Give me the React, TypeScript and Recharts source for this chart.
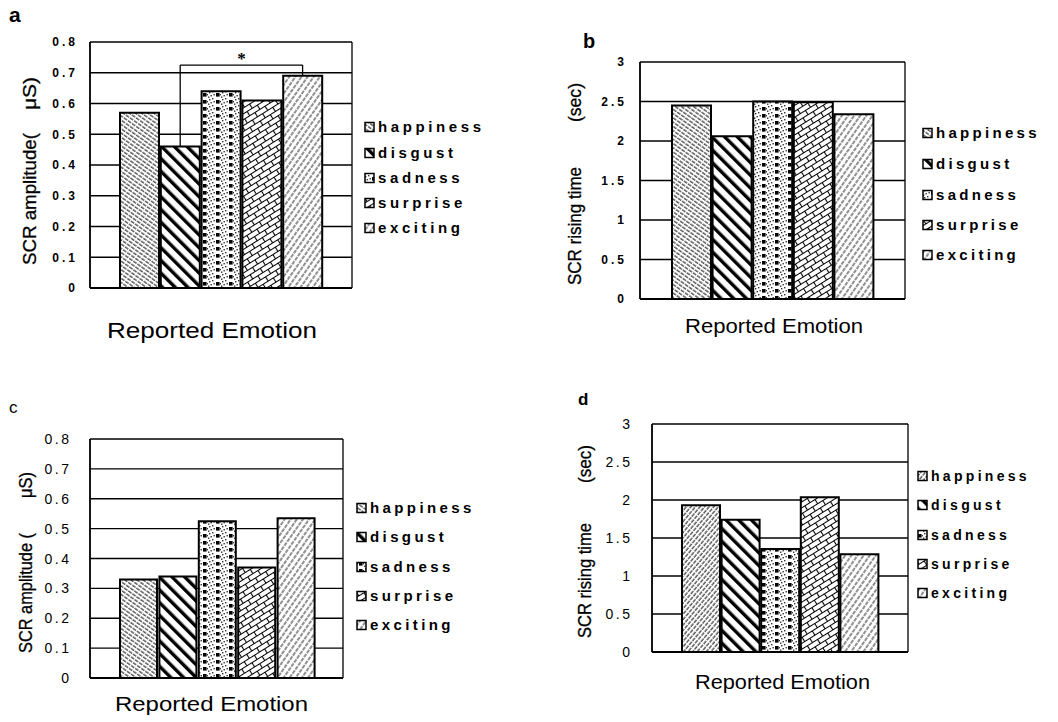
import { BarChart, Bar, XAxis, YAxis, CartesianGrid, Cell, ReferenceLine } from 'recharts';

const W = 1058;
const H = 722;

const EMOTIONS = ['happiness', 'disgust', 'sadness', 'surprise', 'exciting'];
const AMP_A = [0.57, 0.46, 0.64, 0.61, 0.69];
const RISE_B = [2.45, 2.06, 2.5, 2.49, 2.34];
const AMP_C = [0.33, 0.34, 0.525, 0.37, 0.535];
const RISE_D = [1.93, 1.74, 1.355, 2.035, 1.285];
const AMP_TICKS = [0, 0.1, 0.2, 0.3, 0.4, 0.5, 0.6, 0.7, 0.8];
const RISE_TICKS = [0, 0.5, 1, 1.5, 2, 2.5, 3];
const BRACKET_Y = 0.725;

const FILLS = ['pHap', 'pDis', 'pSad', 'pSur', 'pExc'];
const FILLS_D = ['pHapD', 'pDis', 'pSad', 'pSur', 'pExc'];

const SANS = '"Liberation Sans", Arial, sans-serif';
const NARROW = '"Liberation Sans Narrow", "Liberation Sans", Arial, sans-serif';

function Patterns() {
  return (
    <svg width={0} height={0} style={{ position: 'absolute' }}>
      <defs>
        <pattern id="pHap" width="5" height="3.5" patternUnits="userSpaceOnUse" patternTransform="rotate(35)">
          <rect width="5" height="3.5" fill="#fff" />
          <line x1="0" y1="1" x2="5" y2="1" stroke="#222" strokeWidth="1" strokeDasharray="3 1" />
        </pattern>
        <pattern id="pHapD" width="5" height="3.5" patternUnits="userSpaceOnUse" patternTransform="rotate(-50)">
          <rect width="5" height="3.5" fill="#fff" />
          <line x1="0" y1="1" x2="5" y2="1" stroke="#222" strokeWidth="1" strokeDasharray="3 1" />
        </pattern>
        <pattern id="pDis" width="9" height="9" patternUnits="userSpaceOnUse" patternTransform="rotate(-45)">
          <rect width="9" height="9" fill="#fff" />
          <rect width="3.4" height="9" fill="#000" />
        </pattern>
        <pattern id="pSad" width="13" height="7" patternUnits="userSpaceOnUse">
          <rect width="13" height="7" fill="#fff" />
          <rect x="1" y="1" width="1.4" height="1.4" fill="#333" />
          <rect x="4" y="0" width="1.4" height="1.4" fill="#333" />
          <rect x="2.5" y="4" width="1.4" height="1.4" fill="#333" />
          <rect x="5.5" y="3" width="1.4" height="1.4" fill="#333" />
          <rect x="0" y="5.5" width="1.4" height="1.4" fill="#333" />
          <rect x="12" y="3" width="1" height="1.4" fill="#333" />
          <rect x="8" y="2" width="3.6" height="3.6" fill="#000" />
        </pattern>
        <pattern id="pSur" width="12" height="10" patternUnits="userSpaceOnUse" patternTransform="rotate(-32)">
          <rect width="12" height="10" fill="#fff" />
          <path d="M0 0.5H12 M0 5.5H12 M0.5 0.5V5.5 M6.5 5.5V10" stroke="#000" strokeWidth="1.1" fill="none" />
        </pattern>
        <pattern id="pExc" width="5" height="5" patternUnits="userSpaceOnUse" patternTransform="rotate(35)">
          <rect width="5" height="5" fill="#fff" />
          <line x1="1" y1="0" x2="1" y2="5" stroke="#222" strokeWidth="1" strokeDasharray="4 1" />
        </pattern>
      </defs>
    </svg>
  );
}

// box edges of the plot area
const boxEdges = ({ offset }: any) => [offset.left, offset.left + offset.width];

function Panel(props: any) {
  const { values, ticks, max, lay, fills, bracket } = props;
  const data = EMOTIONS.map((name, i) => ({ name, value: values[i] }));
  const tick = (p: any) => (
    <text x={p.x + lay.ls} y={p.y} dy={lay.fs * 0.36} textAnchor="end" fontSize={lay.fs}
      fontWeight={lay.bold ? 700 : 400} fontFamily={SANS} fill="#000" style={{ letterSpacing: lay.ls }}>
      {String(p.payload.value)}
    </text>
  );
  return (
    <div style={{ position: 'absolute', left: 0, top: 0 }}>
      <BarChart width={W} height={H} data={data} barCategoryGap={1} barGap={0}
        margin={{ top: lay.top, left: lay.left - 60, right: W - lay.right, bottom: H - lay.bottom - 1 }}>
        <CartesianGrid horizontal vertical verticalCoordinatesGenerator={boxEdges}
          stroke="#000" strokeWidth={1.3} />
        <XAxis dataKey="name" tick={false} tickLine={false} height={1}
          axisLine={{ stroke: '#000', strokeWidth: 2 }} padding={{ left: lay.padL, right: lay.padR }} />
        <YAxis domain={[0, max]} ticks={ticks} interval={0} width={60} tickSize={0} tickMargin={lay.gap}
          tickLine={false} axisLine={{ stroke: '#000', strokeWidth: 1.5 }} tick={tick} />
        <YAxis yAxisId="r" orientation="right" width={0} domain={[0, 1]} tick={false} tickLine={false}
          axisLine={{ stroke: '#000', strokeWidth: 1.5 }} />
        <Bar dataKey="value" isAnimationActive={false} stroke="#000" strokeWidth={2}>
          {data.map((d, i) => <Cell key={d.name} fill={`url(#${fills[i]})`} />)}
        </Bar>
        {bracket && (
          <ReferenceLine segment={[{ x: 'disgust', y: values[1] }, { x: 'disgust', y: BRACKET_Y }]}
            stroke="#000" strokeWidth={1.3} />
        )}
        {bracket && (
          <ReferenceLine segment={[{ x: 'disgust', y: BRACKET_Y }, { x: 'exciting', y: BRACKET_Y }]}
            stroke="#000" strokeWidth={1.3}
            label={{ value: '*', position: 'top', fontSize: 17, fontWeight: 700, fill: '#000', offset: 1 }} />
        )}
        {bracket && (
          <ReferenceLine segment={[{ x: 'exciting', y: BRACKET_Y }, { x: 'exciting', y: values[4] }]}
            stroke="#000" strokeWidth={1.3} />
        )}
      </BarChart>
    </div>
  );
}

function VTitle({ x, y, len, text, fs }: any) {
  return (
    <text x={x} y={y} transform={`rotate(-90 ${x} ${y})`} fontSize={fs} fontFamily={NARROW}
      textLength={len} lengthAdjust="spacingAndGlyphs" fill="#000" stroke="#000" strokeWidth={0.3}>{text}</text>
  );
}

function Legend({ x, ys, fills, fs, ls }: any) {
  return (
    <g>
      {EMOTIONS.map((name, i) => (
        <g key={name}>
          <rect x={x} y={ys[i] - 4.5} width={9} height={9} fill={`url(#${fills[i]})`} stroke="#000" strokeWidth={1.5} />
          <text x={x + 13} y={ys[i] + fs * 0.36} fontSize={fs} fontWeight={700} fontFamily={SANS}
            fill="#000" style={{ letterSpacing: ls }}>{name}</text>
        </g>
      ))}
    </g>
  );
}

const LAY_A = { left: 90, top: 42, right: 352, bottom: 288, padL: 29, padR: 29, gap: 15, fs: 12, bold: true, ls: 3 };
const LAY_B = { left: 640, top: 62, right: 905, bottom: 299, padL: 31, padR: 31, gap: 16, fs: 12, bold: true, ls: 3 };
const LAY_C = { left: 90, top: 439, right: 343, bottom: 678, padL: 29, padR: 27, gap: 21, fs: 14, bold: false, ls: 2.5 };
const LAY_D = { left: 652, top: 424, right: 908, bottom: 652, padL: 29, padR: 29, gap: 22, fs: 14, bold: false, ls: 2.5 };

export default function App() {
  return (
    <div style={{ position: 'absolute', left: 0, top: 0, width: W, height: H, background: '#fff' }}>
      <Patterns />
      <Panel values={AMP_A} ticks={AMP_TICKS} max={0.8} lay={LAY_A} fills={FILLS} bracket />
      <Panel values={RISE_B} ticks={RISE_TICKS} max={3} lay={LAY_B} fills={FILLS} />
      <Panel values={AMP_C} ticks={AMP_TICKS} max={0.8} lay={LAY_C} fills={FILLS} />
      <Panel values={RISE_D} ticks={RISE_TICKS} max={3} lay={LAY_D} fills={FILLS_D} />
      <svg width={W} height={H} style={{ position: 'absolute', left: 0, top: 0, pointerEvents: 'none' }}>
        <text x={9} y={22} fontSize={21} fontWeight={700} fontFamily={SANS}>a</text>
        <text x={583} y={48} fontSize={20} fontWeight={700} fontFamily={SANS}>b</text>
        <text x={9} y={413} fontSize={17} fontFamily={SANS}>c</text>
        <text x={578} y={405} fontSize={17} fontWeight={700} fontFamily={SANS}>d</text>

        <VTitle x={36} y={265} len={132} text="SCR amplitude(" fs={19} />
        <VTitle x={36} y={110} len={33} text="μS)" fs={19} />
        <VTitle x={581} y={285} len={118} text="SCR rising time" fs={19} />
        <VTitle x={581} y={122} len={39} text="(sec)" fs={19} />
        <VTitle x={32} y={653} len={120} text="SCR amplitude (" fs={18} />
        <VTitle x={32} y={498} len={26} text="μS)" fs={18} />
        <VTitle x={591} y={638} len={115} text="SCR rising time" fs={18} />
        <VTitle x={591} y={483} len={38} text="(sec)" fs={18} />

        <text x={107} y={338} fontSize={22} fontFamily={SANS} textLength={210} lengthAdjust="spacingAndGlyphs">Reported Emotion</text>
        <text x={685} y={333} fontSize={21} fontFamily={NARROW} textLength={178} lengthAdjust="spacingAndGlyphs">Reported Emotion</text>
        <text x={115} y={711} fontSize={21} fontFamily={SANS} textLength={193} lengthAdjust="spacingAndGlyphs">Reported Emotion</text>
        <text x={695} y={689} fontSize={20} fontFamily={NARROW} textLength={175} lengthAdjust="spacingAndGlyphs">Reported Emotion</text>

        <Legend x={365} ys={[127, 153, 178, 203, 228]} fills={FILLS} fs={15} ls={3.6} />
        <Legend x={923} ys={[133, 164, 195, 225, 255]} fills={FILLS} fs={15} ls={3.3} />
        <Legend x={357} ys={[508, 537, 567, 596, 625]} fills={FILLS} fs={15} ls={3.4} />
        <Legend x={918} ys={[476, 505, 535, 564, 593]} fills={FILLS_D} fs={14} ls={3.3} />
      </svg>
    </div>
  );
}
